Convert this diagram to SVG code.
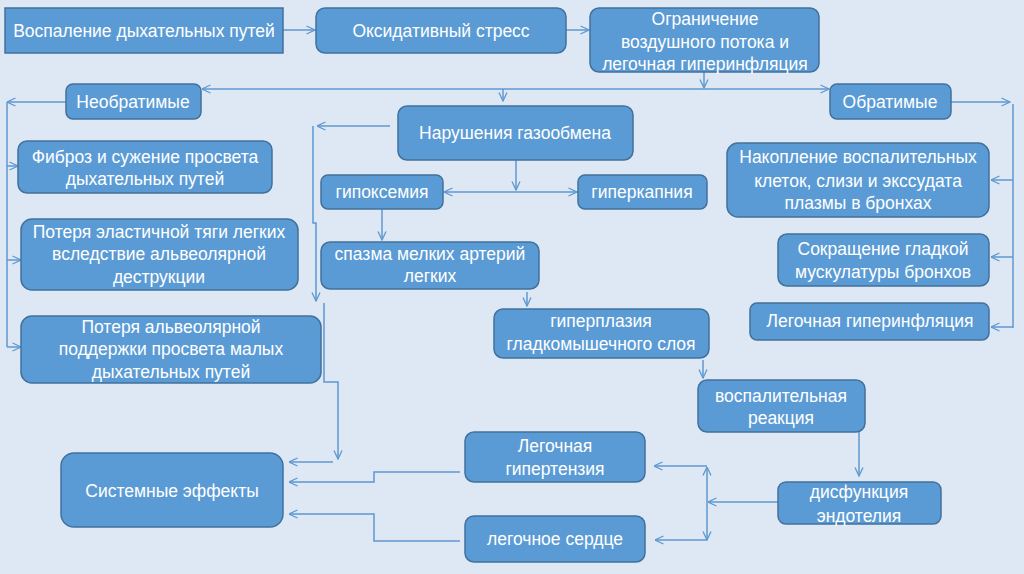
<svg xmlns="http://www.w3.org/2000/svg" width="1024" height="574" viewBox="0 0 1024 574">
<defs>
<style>
.n rect{fill:#5b9bd5;stroke:#41719c;stroke-width:1.5}
.n text{fill:#fff;font-family:"Liberation Sans",Arial,sans-serif;font-size:17.5px;text-anchor:middle}
.c path{fill:none;stroke:#5f98d1;stroke-width:1.5}
</style>
<marker id="a" viewBox="0 0 10 10" refX="9.5" refY="5" markerWidth="10" markerHeight="10" markerUnits="userSpaceOnUse" orient="auto-start-reverse">
<path d="M1,1 L9.5,5 L1,9" fill="none" stroke="#5f98d1" stroke-width="1.3"/>
</marker>
</defs>
<rect width="1024" height="574" fill="#dde8f4"/>

<g class="c">
<path d="M283,30 H315" marker-end="url(#a)"/>
<path d="M566,30 H589" marker-end="url(#a)"/>
<path d="M704,72 V88" marker-end="url(#a)"/>
<path d="M202,89 H829" marker-start="url(#a)" marker-end="url(#a)"/>
<path d="M503,89 V101" marker-end="url(#a)"/>
<path d="M66,102 H7" marker-end="url(#a)"/>
<path d="M7,102 V347"/>
<path d="M7,166 H18" marker-end="url(#a)"/>
<path d="M7,260 H21" marker-end="url(#a)"/>
<path d="M7,347 H21" marker-end="url(#a)"/>
<path d="M951,102 H1010" marker-end="url(#a)"/>
<path d="M1013,104 V328"/>
<path d="M1013,180 H991" marker-end="url(#a)"/>
<path d="M1013,257 H991" marker-end="url(#a)"/>
<path d="M1013,327 H991" marker-end="url(#a)"/>
<path d="M390,126 H317" marker-end="url(#a)"/>
<path d="M313,126 V223 H316 V301" marker-end="url(#a)"/>
<path d="M324,303 V382 H338 V459" marker-end="url(#a)"/>
<path d="M333,462 H289" marker-end="url(#a)"/>
<path d="M516,160 V190" marker-end="url(#a)"/>
<path d="M444,192 H577" marker-start="url(#a)" marker-end="url(#a)"/>
<path d="M382,209 V240" marker-end="url(#a)"/>
<path d="M527,292 V306" marker-end="url(#a)"/>
<path d="M703,360 V378" marker-end="url(#a)"/>
<path d="M859,432 V476" marker-end="url(#a)"/>
<path d="M778,502 H708" marker-end="url(#a)"/>
<path d="M707,467 V540" marker-start="url(#a)" marker-end="url(#a)"/>
<path d="M707,466 H654" marker-end="url(#a)"/>
<path d="M707,540 H655" marker-end="url(#a)"/>
<path d="M460,472 H374 V482 H289" marker-end="url(#a)"/>
<path d="M460,541 H374 V514 H289" marker-end="url(#a)"/>
</g>

<g id="n1" class="n"><rect x="5" y="8" width="278" height="45"/><text x="144" y="37">Воспаление дыхательных путей</text></g>
<g id="n2" class="n"><rect x="316" y="8" width="250" height="45" rx="9"/><text x="441" y="37">Оксидативный стресс</text></g>
<g id="n3" class="n"><rect x="590" y="8" width="229" height="64" rx="9"/><text x="705" y="25">Ограничение</text><text x="705" y="48">воздушного потока и</text><text x="705" y="70">легочная гиперинфляция</text></g>
<g id="n4" class="n"><rect x="66" y="84" width="135" height="35" rx="7"/><text x="133" y="108">Необратимые</text></g>
<g id="n5" class="n"><rect x="830" y="84" width="121" height="35" rx="7"/><text x="890" y="108">Обратимые</text></g>
<g id="n6" class="n"><rect x="398" y="106" width="235" height="54" rx="9"/><text x="515" y="139">Нарушения газообмена</text></g>
<g id="n7" class="n"><rect x="321" y="175" width="122" height="34" rx="7"/><text x="382" y="198">гипоксемия</text></g>
<g id="n8" class="n"><rect x="578" y="175" width="129" height="34" rx="7"/><text x="642" y="198">гиперкапния</text></g>
<g id="n9" class="n"><rect x="321" y="242" width="218" height="47" rx="9"/><text x="430" y="260">спазма мелких артерий</text><text x="430" y="282">легких</text></g>
<g id="n10" class="n"><rect x="494" y="309" width="215" height="49" rx="9"/><text x="601" y="327">гиперплазия</text><text x="601" y="350">гладкомышечного слоя</text></g>
<g id="n11" class="n"><rect x="18" y="141" width="254" height="52" rx="9"/><text x="145" y="163">Фиброз и сужение просвета</text><text x="145" y="185">дыхательных путей</text></g>
<g id="n12" class="n"><rect x="21" y="219" width="277" height="71" rx="11"/><text x="159" y="238">Потеря эластичной тяги легких</text><text x="159" y="260">вследствие альвеолярной</text><text x="159" y="283">деструкции</text></g>
<g id="n13" class="n"><rect x="21" y="316" width="300" height="67" rx="11"/><text x="171" y="333">Потеря альвеолярной</text><text x="171" y="355">поддержки просвета малых</text><text x="171" y="378">дыхательных путей</text></g>
<g id="n14" class="n"><rect x="727" y="143" width="262" height="74" rx="11"/><text x="858" y="163">Накопление воспалительных</text><text x="858" y="187">клеток, слизи и экссудата</text><text x="858" y="209">плазмы в бронхах</text></g>
<g id="n15" class="n"><rect x="778" y="234" width="211" height="52" rx="9"/><text x="883" y="255">Сокращение гладкой</text><text x="883" y="278">мускулатуры бронхов</text></g>
<g id="n16" class="n"><rect x="750" y="303" width="239" height="37" rx="7"/><text x="870" y="327">Легочная гиперинфляция</text></g>
<g id="n17" class="n"><rect x="698" y="380" width="167" height="52" rx="9"/><text x="781" y="402">воспалительная</text><text x="781" y="424">реакция</text></g>
<g id="n18" class="n"><rect x="465" y="432" width="180" height="50" rx="9"/><text x="555" y="452">Легочная</text><text x="555" y="475">гипертензия</text></g>
<g id="n19" class="n"><rect x="465" y="516" width="180" height="46" rx="9"/><text x="555" y="545">легочное сердце</text></g>
<g id="n20" class="n"><rect x="778" y="482" width="163" height="42" rx="8"/><text x="859" y="498">дисфункция</text><text x="859" y="522">эндотелия</text></g>
<g id="n21" class="n"><rect x="61" y="453" width="222" height="74" rx="13"/><text x="172" y="497">Системные эффекты</text></g>
</svg>
